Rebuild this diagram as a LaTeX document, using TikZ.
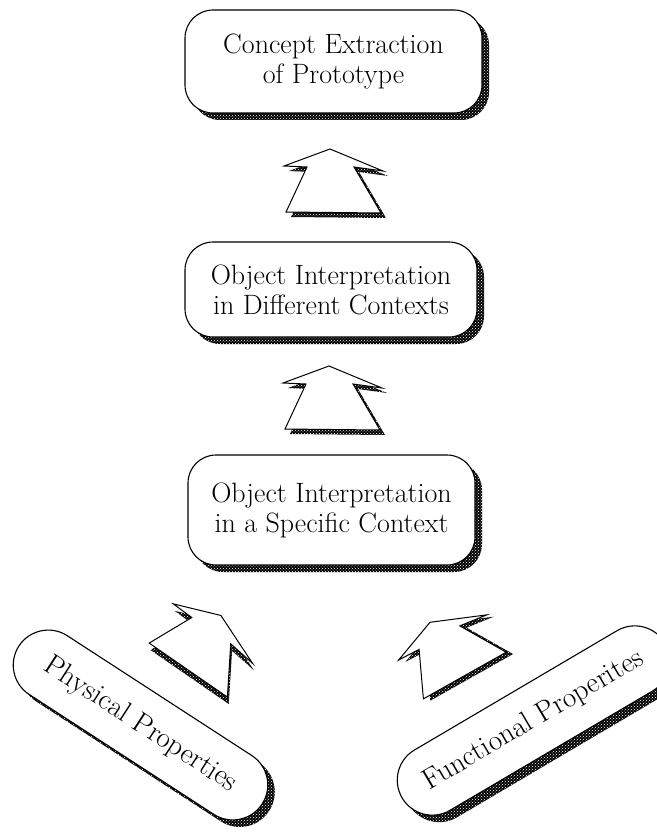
\documentclass[tikz,border=0pt]{standalone}
\usetikzlibrary{shadows,patterns,shapes.misc,positioning}
% outline of one hollow block arrow, centred, y pointing down
\newcommand{\arrowoutline}{(0,-32) -- (53,-10) -- (24,-14) -- (51,32) -- (-44,31) -- (-23,-14) -- (-46,-15) -- cycle}

\begin{document}
\begin{tikzpicture}[x=1pt,y=-1pt,
  boxshadow/.style={general shadow={shadow xshift=7pt,shadow yshift=-7pt,fill=black},
    general shadow={shadow xshift=7pt,shadow yshift=-7pt,pattern=crosshatch dots,pattern color=white}},
  dotshadow/.style={preaction={fill=black},pattern=crosshatch dots,pattern color=white},
  stagebox/.style={draw,line width=1.1pt,fill=white,rounded corners=28pt,align=center,
    inner sep=0pt,font=\fontsize{28}{30}\selectfont,boxshadow},
  propbox/.style={draw,line width=1.1pt,fill=white,rounded rectangle,minimum height=70pt,
    inner sep=0pt,font=\fontsize{29}{31}\selectfont,boxshadow}]
\useasboundingbox (0,0) rectangle (656,837);
% Stages, top to bottom
\node[stagebox,minimum width=297pt,minimum height=103pt] (concept) at (333.5,61.5) {Concept Extraction\\of Prototype};
\node[stagebox,minimum width=292pt,minimum height=95pt] (contexts) at (331,289.5) {Object Interpretation\\in Different Contexts};
\node[stagebox,minimum width=287pt,minimum height=110pt] (specific) at (331.5,510) {Object Interpretation\\in a Specific Context};
% Properties
\node[propbox,minimum width=290pt,rotate=-33] (physical) at (140.5,725) {Physical Properties};
\node[propbox,minimum width=305pt,rotate=30.5] (functional) at (533.5,720.5) {Functional Properites};
% Block arrows
\foreach \x/\y/\ang in {330/181/0, 329/398/0, 203/642/-34, 446/650/30} {
  \begin{scope}[shift={(\x,\y)},rotate=\ang]
    \path[dotshadow,shift={(5,5)}] \arrowoutline;
    \draw[line width=1pt,fill=white] \arrowoutline;
  \end{scope}
}
\end{tikzpicture}
\end{document}
